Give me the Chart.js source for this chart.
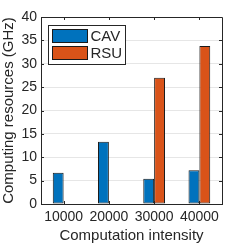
<!DOCTYPE html>
<html>
<head>
<meta charset="utf-8">
<script src="https://cdn.jsdelivr.net/npm/chart.js@4"></script>
<style>
  html, body { margin: 0; padding: 0; background: #fff; }
  #wrap { width: 245px; height: 245px; }
</style>
</head>
<body>
<div id="wrap"><canvas id="chart" width="245" height="245"></canvas></div>
<script>
const categories = ['10000', '20000', '30000', '40000'];
const cavValues  = [6.7, 13.3, 5.4, 7.2];
const rsuValues  = [0.1, 0.1, 27.0, 33.8];
const yTicks     = [0, 5, 10, 15, 20, 25, 30, 35, 40];

const FONT = "'Liberation Sans', Arial, sans-serif";
const AXIS = '#262626';

// ── Box, inward ticks and in-plot legend (MATLAB look) ─────────────
const matlabFrame = {
  id: 'matlabFrame',
  afterDatasetsDraw(chart) {
    const { ctx, chartArea: a, scales: { x, y } } = chart;
    ctx.save();
    ctx.strokeStyle = AXIS;
    ctx.lineWidth = 1;
    ctx.beginPath();
    ctx.rect(Math.round(a.left) + 0.5, Math.round(a.top) + 0.5,
             Math.round(a.right - a.left), Math.round(a.bottom - a.top));
    ctx.stroke();

    ctx.beginPath();
    categories.forEach((_, i) => {
      const px = Math.round(x.getPixelForValue(i)) + 0.5;
      ctx.moveTo(px, a.bottom); ctx.lineTo(px, a.bottom - 3);
      ctx.moveTo(px, a.top);    ctx.lineTo(px, a.top + 3);
    });
    yTicks.forEach(v => {
      const py = Math.round(y.getPixelForValue(v)) + 0.5;
      ctx.moveTo(a.left, py);  ctx.lineTo(a.left + 3, py);
      ctx.moveTo(a.right, py); ctx.lineTo(a.right - 3, py);
    });
    ctx.stroke();

    // legend box
    const lx = 48.5, ly = 25.5, lw = 77, lh = 39;
    ctx.fillStyle = '#fff';
    ctx.fillRect(lx, ly, lw, lh);
    ctx.strokeStyle = AXIS;
    ctx.strokeRect(lx, ly, lw, lh);
    ctx.font = `15px ${FONT}`;
    ctx.textBaseline = 'middle';
    chart.data.datasets.forEach((ds, i) => {
      const sy = ly + 4 + i * 17;
      ctx.fillStyle = ds.backgroundColor;
      ctx.fillRect(lx + 4, sy, 35, 13);
      ctx.strokeStyle = '#1a1a1a';
      ctx.strokeRect(lx + 4, sy, 35, 13);
      ctx.fillStyle = AXIS;
      ctx.fillText(ds.label, lx + 42, sy + 7);
    });
    ctx.restore();
  }
};

new Chart(document.getElementById('chart'), {
  type: 'bar',
  data: {
    labels: categories,
    datasets: [
      { label: 'CAV', data: cavValues, backgroundColor: '#0072BD',
        borderColor: '#1a1a1a', borderWidth: 1, borderSkipped: false },
      { label: 'RSU', data: rsuValues, backgroundColor: '#D95319',
        borderColor: '#1a1a1a', borderWidth: 1, borderSkipped: false },
    ],
  },
  options: {
    responsive: false,
    animation: false,
    layout: { padding: { top: 17, right: 23, left: 0, bottom: 0 } },
    plugins: { legend: { display: false }, tooltip: { enabled: false } },
    datasets: { bar: { barPercentage: 1, categoryPercentage: 0.48 } },
    scales: {
      x: {
        grid: { display: false, drawTicks: false },
        border: { color: AXIS },
        ticks: { color: AXIS, font: { family: FONT, size: 14 }, padding: 5, maxRotation: 0 },
        title: { display: true, text: 'Computation intensity', color: AXIS,
                 font: { family: FONT, size: 15 }, padding: { top: 1, bottom: 0 } },
        afterFit(s) { s.height = 41; },
      },
      y: {
        min: 0, max: 40,
        grid: { color: '#e6e6e6', drawTicks: false },
        border: { color: AXIS },
        ticks: { color: AXIS, stepSize: 5, font: { family: FONT, size: 14 }, padding: 4 },
        title: { display: true, text: 'Computing resources (GHz)', color: AXIS,
                 font: { family: FONT, size: 15 }, padding: { top: 0, bottom: 0 } },
        afterFit(s) { s.width = 41; },
      },
    },
  },
  plugins: [matlabFrame],
});
</script>
</body>
</html>
